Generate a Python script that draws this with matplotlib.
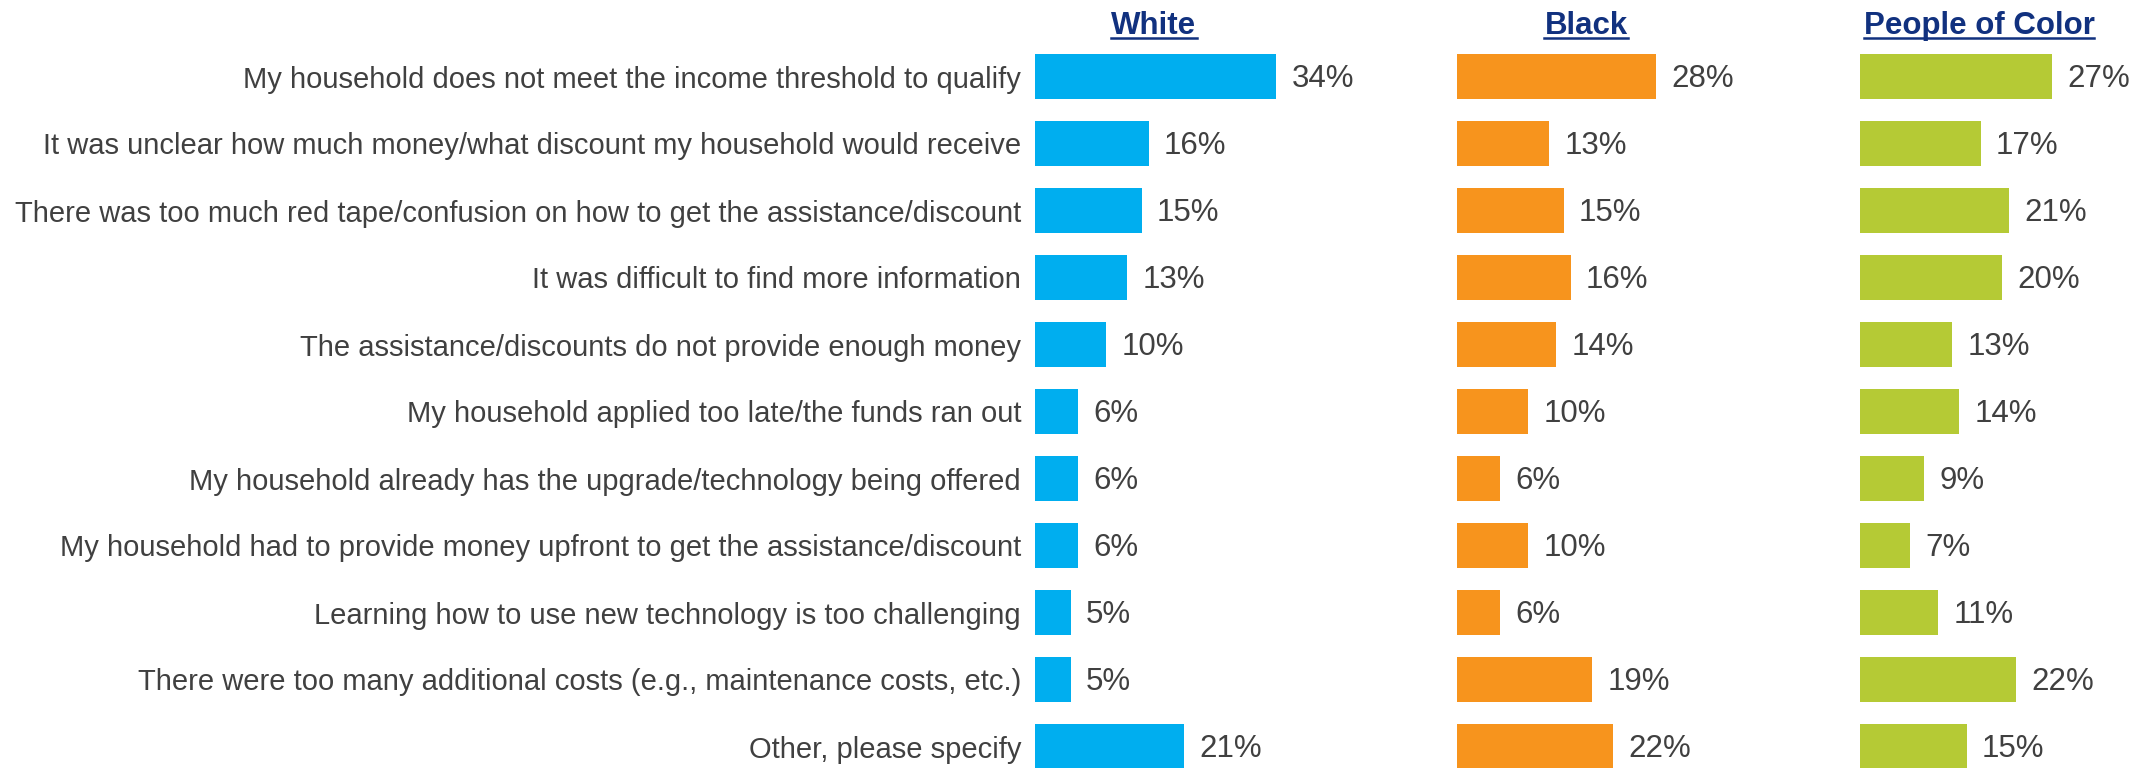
import matplotlib
matplotlib.use('Agg')
import matplotlib.pyplot as plt
from matplotlib.lines import Line2D

plt.rcParams['font.family'] = ['Liberation Sans', 'DejaVu Sans']

reasons = [
    'My household does not meet the income threshold to qualify',
    'It was unclear how much money/what discount my household would receive',
    'There was too much red tape/confusion on how to get the assistance/discount',
    'It was difficult to find more information',
    'The assistance/discounts do not provide enough money',
    'My household applied too late/the funds ran out',
    'My household already has the upgrade/technology being offered',
    'My household had to provide money upfront to get the assistance/discount',
    'Learning how to use new technology is too challenging',
    'There were too many additional costs (e.g., maintenance costs, etc.)',
    'Other, please specify',
]
white = [34, 16, 15, 13, 10, 6, 6, 6, 5, 5, 21]
black = [28, 13, 15, 16, 14, 10, 6, 10, 6, 19, 22]
poc = [27, 17, 21, 20, 13, 14, 9, 7, 11, 22, 15]
groups = ['White', 'Black', 'People of Color']

colors = ['#00AEEF', '#F7941D', '#B5CA35']
text_gray = '#404040'
navy = '#11317F'

W, H = 2146, 768
fig = plt.figure(figsize=(W / 100, H / 100), dpi=100)

# panel layout in pixels
px_per_unit = 7.1
xmax = 40
lefts = [1035, 1457, 1860]
head_cx = [1154, 1586, 1979]
row_h = 67
top_px = 76.5 - row_h / 2
n = len(reasons)
ax_h = n * row_h

axes = []
for i, (vals, col) in enumerate(zip([white, black, poc], colors)):
    ax = fig.add_axes([lefts[i] / W, 1 - (top_px + ax_h) / H,
                       xmax * px_per_unit / W, ax_h / H])
    ax.set_xlim(0, xmax)
    ax.set_ylim(n - 0.5, -0.5)
    ypos = list(range(n))
    ax.barh(ypos, vals, height=0.67, color=col)
    for y, v in zip(ypos, vals):
        ax.annotate(f'{v}%', (v, y), xytext=(11, -2), textcoords='offset points',
                    va='center', ha='left', fontsize=22.5, color=text_gray)
    ax.set_xticks([])
    if i == 0:
        ax.set_yticks(ypos)
        ax.set_yticklabels(reasons, fontsize=21, color=text_gray)
        ax.tick_params(axis='y', length=0, pad=10)
    else:
        ax.set_yticks([])
    for s in ax.spines.values():
        s.set_visible(False)
    axes.append(ax)

# underlined column headers
heads = []
for cx, name in zip(head_cx, groups):
    t = fig.text(cx / W, 1 - 34 / H, name, ha='center', va='baseline',
                 fontsize=22.5, fontweight='bold', color=navy)
    heads.append(t)

fig.canvas.draw()
r = fig.canvas.get_renderer()
for t in heads:
    bb = t.get_window_extent(renderer=r)
    yl = (H - 38) / H
    fig.add_artist(Line2D([bb.x0 / W, bb.x1 / W], [yl, yl],
                          transform=fig.transFigure, color=navy, lw=1.8))

fig.savefig('out.png', dpi=100)
